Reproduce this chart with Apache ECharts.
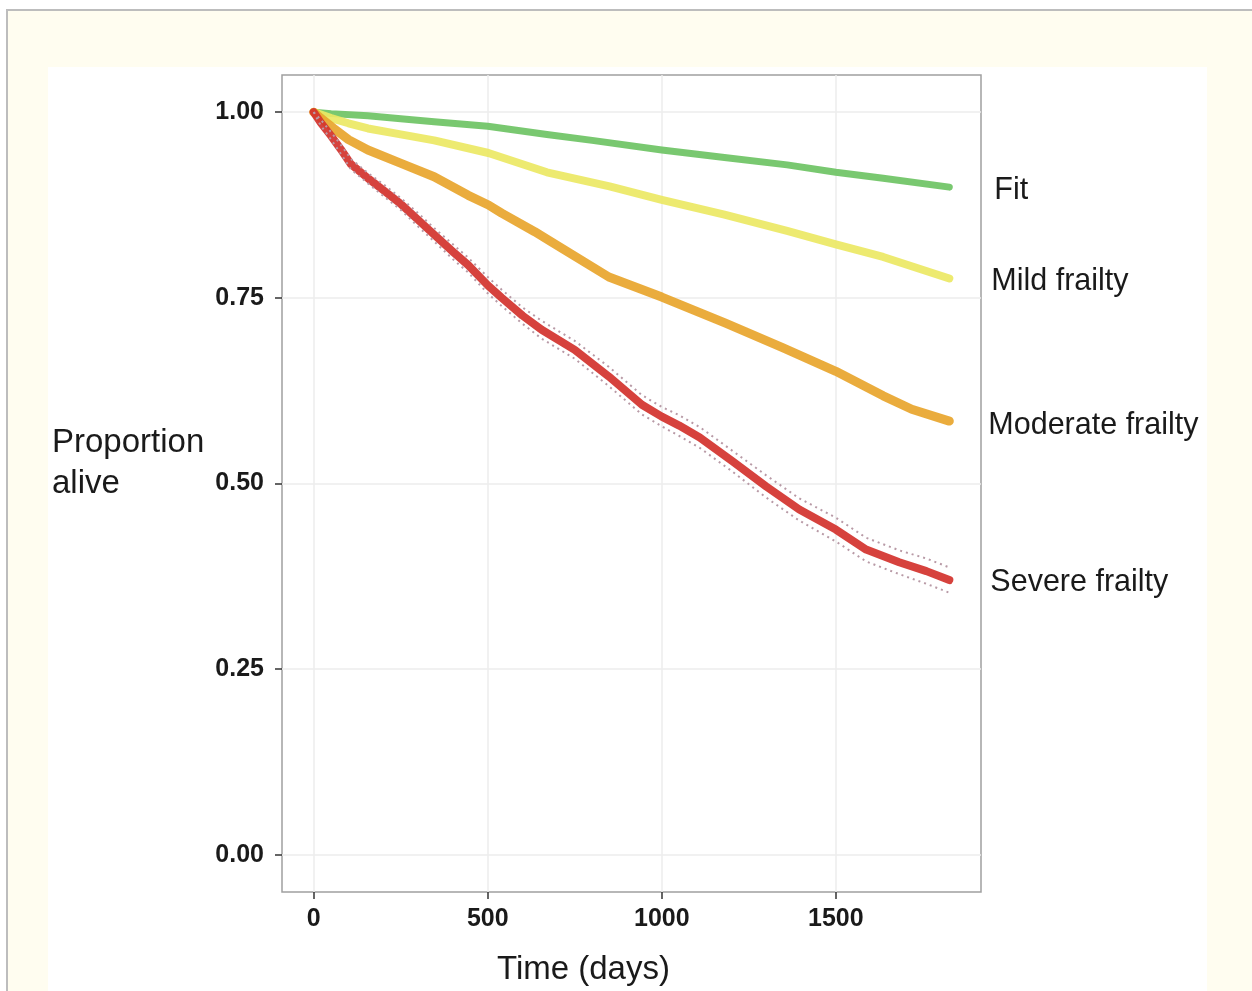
<!DOCTYPE html>
<html>
<head>
<meta charset="utf-8">
<script src="https://cdn.jsdelivr.net/npm/echarts@6/dist/echarts.min.js"></script>
<style>
html,body{margin:0;padding:0;background:#ffffff;}
#chart{width:1252px;height:991px;}
</style>
</head>
<body>
<div id="chart"></div>
<script>
// ---- data ----
const seriesNames = ['Fit', 'Mild frailty', 'Moderate frailty', 'Severe frailty'];
const xTicks = [0, 500, 1000, 1500];
const yTicks = [0, 0.25, 0.5, 0.75, 1];

const fitData = [[0,1.0],[50,0.998],[156,0.995],[250,0.991],[346,0.987],[500,0.981],[670,0.970],[800,0.962],[1000,0.949],[1180,0.939],[1360,0.929],[1500,0.919],[1636,0.911],[1826,0.899]];
const mildData = [[0,1.0],[50,0.992],[100,0.985],[156,0.978],[250,0.970],[346,0.962],[502,0.945],[670,0.919],[850,0.900],[1000,0.882],[1180,0.862],[1360,0.840],[1500,0.822],[1636,0.805],[1826,0.776]];
const moderateData = [[0,1.0],[20,0.992],[58,0.978],[100,0.963],[156,0.949],[251,0.931],[346,0.913],[444,0.888],[502,0.875],[540,0.864],[635,0.839],[684,0.825],[848,0.778],[1000,0.751],[1183,0.716],[1347,0.683],[1500,0.651],[1636,0.618],[1718,0.600],[1826,0.584]];
const severeDays = [0,20,50,78,107,156,200,251,300,346,400,444,500,540,600,655,750,848,943,1000,1050,1109,1203,1300,1395,1500,1587,1682,1760,1826];
const severeVals = [1.0,0.986,0.968,0.950,0.930,0.911,0.895,0.876,0.855,0.835,0.812,0.794,0.767,0.750,0.726,0.707,0.680,0.644,0.606,0.590,0.578,0.562,0.530,0.496,0.465,0.438,0.411,0.394,0.382,0.370];
const severeUpper = [1.0,0.990,0.973,0.956,0.937,0.918,0.903,0.884,0.864,0.844,0.822,0.804,0.778,0.761,0.737,0.719,0.692,0.657,0.619,0.603,0.592,0.576,0.544,0.511,0.480,0.454,0.427,0.410,0.399,0.387];
const severeLower = [1.0,0.982,0.963,0.944,0.923,0.904,0.887,0.868,0.846,0.826,0.802,0.784,0.756,0.739,0.715,0.695,0.668,0.631,0.593,0.577,0.564,0.548,0.516,0.481,0.450,0.422,0.395,0.378,0.365,0.353];

const zip = (xs, ys) => xs.map((x, i) => [x, ys[i]]);
const colors = ['#6ec364', '#ebe864', '#e8a52d', '#d2322d'];
const textColor = '#1a1a1a';
const font = 'Liberation Sans, Arial, Helvetica, sans-serif';

function mainSeries(name, data, color, width, dx, dy) {
  return {
    name: name, type: 'line', data: data, showSymbol: false, symbol: 'none',
    smooth: false,
    lineStyle: {color: color, width: width, opacity: 0.92, cap: 'round', join: 'round'},
    itemStyle: {color: color},
    silent: true, z: 3,
    endLabel: {
      show: true, formatter: '{a}', distance: 40, offset: [dx, dy],
      color: textColor, fontSize: 30.5, fontFamily: font
    }
  };
}
function ciSeries(data) {
  return {
    type: 'line', data: data, showSymbol: false, symbol: 'none', silent: true, z: 4,
    smooth: false,
    lineStyle: {color: '#b89aa6', width: 2, type: [2, 4]}
  };
}

const chart = echarts.init(document.getElementById('chart'), null, {renderer: 'canvas'});
chart.setOption({
  animation: false,
  backgroundColor: '#ffffff',
  graphic: [
    {type: 'rect', z: -20, shape: {x: 7, y: 10, width: 1260, height: 1000}, style: {fill: '#fffdf0', stroke: '#bdbdbd', lineWidth: 2}},
    {type: 'rect', z: -19, shape: {x: 48, y: 67, width: 1159, height: 930}, style: {fill: '#ffffff'}},
    {type: 'text', z: 10, left: 497, top: 953, style: {text: 'Time (days)', fontSize: 33, fontFamily: font, fill: textColor}},
    {type: 'text', z: 10, left: 52, top: 422, style: {text: 'Proportion\nalive', fontSize: 33, lineHeight: 41, fontFamily: font, fill: textColor}}
  ],
  grid: {left: 282, right: 271, top: 75, bottom: 99, show: true, borderColor: '#a0a0a0', borderWidth: 1.5, backgroundColor: 'transparent'},
  xAxis: {
    type: 'value', min: -91, max: 1917,
    axisLine: {show: false, onZero: false},
    axisTick: {show: true, length: 7, lineStyle: {color: '#333', width: 1.5}, customValues: xTicks},
    axisLabel: {customValues: xTicks, margin: 15, fontSize: 25, fontWeight: 'bold', color: textColor, fontFamily: font,
      formatter: v => String(v)},
    splitLine: {show: true, lineStyle: {color: '#ececec', width: 1.5}}
  },
  yAxis: {
    type: 'value', min: -0.05, max: 1.05,
    axisLine: {show: false, onZero: false},
    axisTick: {show: true, length: 7, lineStyle: {color: '#333', width: 1.5}, customValues: yTicks},
    axisLabel: {customValues: yTicks, margin: 18, fontSize: 25, fontWeight: 'bold', color: textColor, fontFamily: font,
      formatter: v => v.toFixed(2)},
    splitLine: {show: true, lineStyle: {color: '#ececec', width: 1.5}}
  },
  series: [
    mainSeries(seriesNames[0], fitData, colors[0], 7, 5, 3),
    mainSeries(seriesNames[1], mildData, colors[1], 8, 2, 3),
    mainSeries(seriesNames[2], moderateData, colors[2], 9, -1, 4),
    mainSeries(seriesNames[3], zip(severeDays, severeVals), colors[3], 8, 1, 3),
    ciSeries(zip(severeDays, severeUpper)),
    ciSeries(zip(severeDays, severeLower))
  ]
});
</script>
</body>
</html>
